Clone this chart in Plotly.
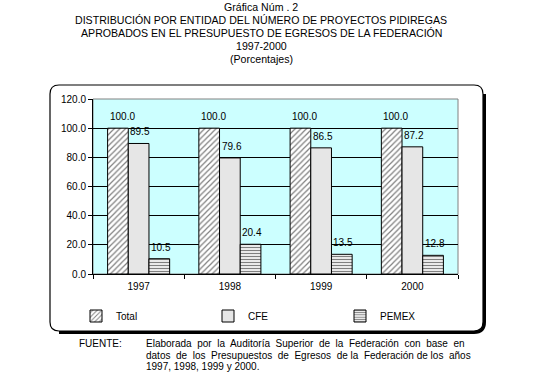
import plotly.graph_objects as go

years = ["1997", "1998", "1999", "2000"]
total = [100.0, 100.0, 100.0, 100.0]
cfe = [89.5, 79.6, 86.5, 87.2]
pemex = [10.5, 20.4, 13.5, 12.8]

W, H = 538, 373
L, R, T, B = 93, 80, 99, 99
PW, PH = W - L - R, H - T - B
BARGAP = 0.32

def px(x):
    return (x - L) / PW

def py(y):
    return (H - B - y) / PH

FONT = "Liberation Sans, Arial, sans-serif"

fig = go.Figure()
specs = [
    ("Total", total, dict(shape="/", fgcolor="black", bgcolor="white", size=4, solidity=0.3)),
    ("CFE", cfe, dict(shape=".", fgcolor="#8a8a8a", bgcolor="white", size=2, solidity=0.5)),
    ("PEMEX", pemex, dict(shape="-", fgcolor="black", bgcolor="white", size=3, solidity=0.45)),
]
annotations = []
bw = (1 - BARGAP) / len(specs)
for k, (name, vals, pat) in enumerate(specs):
    fig.add_trace(go.Bar(
        name=name, x=years, y=vals,
        marker=dict(color="white", pattern=pat, line=dict(color="black", width=1)),
    ))
    for i, v in enumerate(vals):
        left = i + (k - 1) * bw - bw / 2
        annotations.append(dict(text=f"{v:.1f}", x=left, y=v, xref="x", yref="y",
                                showarrow=False, xanchor="left", yanchor="bottom",
                                xshift=0, yshift=4,
                                font=dict(size=10, color="black", family=FONT)))

# outer rounded frame
x0, y0, x1, y1, r = 50, 85, 483, 331, 9
path = (f"M {px(x0+r)},{py(y0)} L {px(x1-r)},{py(y0)} Q {px(x1)},{py(y0)} {px(x1)},{py(y0+r)} "
        f"L {px(x1)},{py(y1-r)} Q {px(x1)},{py(y1)} {px(x1-r)},{py(y1)} "
        f"L {px(x0+r)},{py(y1)} Q {px(x0)},{py(y1)} {px(x0)},{py(y1-r)} "
        f"L {px(x0)},{py(y0+r)} Q {px(x0)},{py(y0)} {px(x0+r)},{py(y0)} Z")
shadow = (f"M {px(x1+1.5)},{py(y0+r)} L {px(x1+1.5)},{py(y1-r)} Q {px(x1+1.5)},{py(y1+1.5)} {px(x1-r)},{py(y1+1.5)} "
          f"L {px(x0+r)},{py(y1+1.5)}")
shapes = [
    dict(type="path", path=path, xref="paper", yref="paper", line=dict(color="black", width=1.2), layer="below"),
    dict(type="path", path=shadow, xref="paper", yref="paper", line=dict(color="black", width=3), layer="below"),
    dict(type="rect", xref="paper", yref="paper", x0=0, y0=0, x1=1, y1=1,
         line=dict(color="#808080", width=1), layer="below"),
]

title_lines = [
    "Gráfica Núm . 2",
    "DISTRIBUCIÓN POR ENTIDAD DEL NÚMERO DE PROYECTOS PIDIREGAS",
    "APROBADOS EN EL PRESUPUESTO DE EGRESOS DE LA FEDERACIÓN",
    "1997-2000",
    "(Porcentajes)",
]
title_y = [7, 20, 33, 46, 59]
for t, yy in zip(title_lines, title_y):
    annotations.append(dict(text=t, x=px(261), y=py(yy), xref="paper", yref="paper",
                            showarrow=False, xanchor="center", yanchor="middle",
                            font=dict(size=10.6, color="black", family=FONT)))

foot = [
    "Elaborada  por  la  Auditoría  Superior  de  la  Federación  con  base  en",
    "datos  de  los  Presupuestos  de  Egresos  de la  Federación de los  años",
    "1997, 1998, 1999 y 2000.",
]
foot_y = [343, 355, 366]
annotations.append(dict(text="FUENTE:", x=px(77), y=py(343), xref="paper", yref="paper",
                        showarrow=False, xanchor="left", yanchor="middle",
                        font=dict(size=10, color="black", family=FONT)))
for t, yy in zip(foot, foot_y):
    annotations.append(dict(text=t, x=px(144), y=py(yy), xref="paper", yref="paper",
                            showarrow=False, xanchor="left", yanchor="middle",
                            font=dict(size=10, color="black", family=FONT)))

fig.update_layout(
    width=W, height=H,
    margin=dict(l=L, r=R, t=T, b=B, pad=0),
    paper_bgcolor="white", plot_bgcolor="#CCFFFF",
    barmode="group", bargap=BARGAP, bargroupgap=0,
    font=dict(family=FONT, size=10, color="black"),
    showlegend=True,
    legend=dict(orientation="h", x=px(76), y=py(316), xanchor="left", yanchor="middle",
                entrywidth=87, entrywidthmode="pixels", font=dict(size=10),
                itemwidth=30, bgcolor="rgba(0,0,0,0)", traceorder="normal"),
    shapes=shapes, annotations=annotations,
)
fig.update_yaxes(range=[0, 120], dtick=20, tickformat=".1f", showgrid=True, gridcolor="black",
                 gridwidth=1, showline=True, linecolor="black", linewidth=1, ticks="outside",
                 ticklen=4, tickcolor="black", zeroline=False, tickfont=dict(size=10))
fig.update_xaxes(showline=True, linecolor="black", linewidth=1, ticks="outside", ticklen=4,
                 tickcolor="black", tickson="boundaries", tickfont=dict(size=10),
                 ticklabelstandoff=3)

fig.write_html("out.html")
